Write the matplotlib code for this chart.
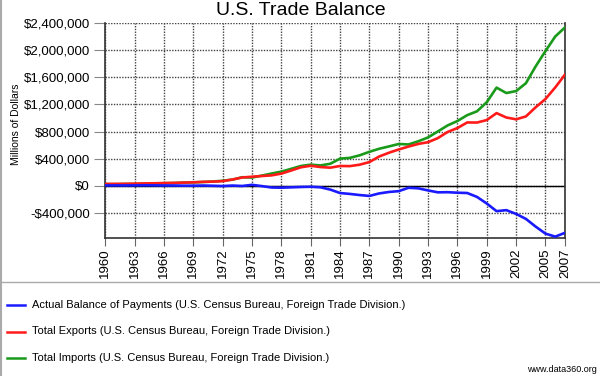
import matplotlib
matplotlib.use("Agg")
import matplotlib.pyplot as plt
from matplotlib.lines import Line2D

plt.rcParams['font.family'] = ['Liberation Sans', 'DejaVu Sans']

years = list(range(1960, 2008))
exports = [25940, 26403, 27722, 29620, 33341, 35285, 38926, 41333, 45543, 49220,
           56640, 59677, 67222, 91242, 120897, 132585, 142716, 152301, 178428, 224131,
           271834, 294398, 275236, 266106, 291094, 289070, 310033, 348869, 431149, 487003,
           535233, 578344, 616882, 642863, 703254, 794387, 851602, 934453, 933174, 969867,
           1072782, 1007725, 980879, 1023519, 1158987, 1281180, 1452000, 1643000]
imports = [22432, 22208, 24352, 25410, 27319, 30621, 35987, 38729, 45293, 49129,
           54386, 60979, 72665, 89342, 125190, 120181, 148798, 179547, 208191, 248696,
           291241, 310570, 299391, 323874, 400166, 410950, 448572, 500552, 545715, 580144,
           616097, 609479, 656094, 713174, 801747, 890771, 955667, 1042726, 1099314, 1233622,
           1449531, 1369496, 1398311, 1514503, 1764344, 1989804, 2205288, 2340000]
balance = [3508, 4195, 3370, 4210, 6022, 4664, 2939, 2604, 250, 91,
           2254, -1302, -5443, 1900, -4293, 12404, -6082, -27246, -29763, -24565,
           -19407, -16172, -24156, -57767, -109072, -121880, -138538, -151684, -114566, -93141,
           -80864, -31135, -39212, -70311, -98493, -96384, -104065, -108273, -166140, -263755,
           -376749, -361771, -417432, -490984, -605357, -708624, -753288, -696728]

xticks = [1960, 1963, 1966, 1969, 1972, 1975, 1978, 1981, 1984, 1987, 1990, 1993,
          1996, 1999, 2002, 2005, 2007]
yticks = [-400000, 0, 400000, 800000, 1200000, 1600000, 2000000, 2400000]
ytick_labels = ['-$400,000', '$0', '$400,000', '$800,000', '$1,200,000', '$1,600,000',
                '$2,000,000', '$2,400,000']

labels = ['Actual Balance of Payments (U.S. Census Bureau, Foreign Trade Division.)',
          'Total Exports (U.S. Census Bureau, Foreign Trade Division.)',
          'Total Imports (U.S. Census Bureau, Foreign Trade Division.)']
colors = ['#1a1aff', '#ff1a1a', '#1a9a1a']

fig = plt.figure(figsize=(6.0, 3.76), dpi=100)
fig.patch.set_facecolor('white')
ax = fig.add_axes([0.1755, 0.368, 0.7662, 0.570])
ax.set_axisbelow(True)

ax.set_xlim(1960, 2007)
ax.set_ylim(-768000, 2400000)

ax.plot(years, imports, color=colors[2], lw=1.9, zorder=3)
ax.plot(years, exports, color=colors[1], lw=1.9, zorder=4)
ax.plot(years, balance, color=colors[0], lw=1.9, zorder=5)

ax.set_xticks(xticks)
ax.set_xticklabels([str(x) for x in xticks], rotation=90, fontsize=9.5)
ax.set_yticks(yticks)
ax.set_yticklabels(ytick_labels, fontsize=9.5)
ax.tick_params(axis='x', length=6, color='#666666', pad=2)
ax.tick_params(axis='y', length=8, color='#888888', pad=3)

ax.grid(True, color='#444444', lw=1.0, linestyle=(0, (1, 1)))
ax.axhline(0, color='black', lw=1.0, zorder=2)

for s in ['left', 'bottom', 'right']:
    ax.spines[s].set_color('#333333')
    ax.spines[s].set_linewidth(1.2)
ax.spines['top'].set_visible(False)

fig.text(0.027, 0.67, 'Millions of Dollars', rotation=90, fontsize=7.5,
         ha='center', va='center')
fig.text(0.502, 0.972, 'U.S. Trade Balance', fontsize=14, ha='center', va='center')

# separator and border
fig.add_artist(Line2D([0, 1], [1 - 282 / 376] * 2, color='#aaaaaa', lw=1.0,
                      transform=fig.transFigure))
fig.add_artist(Line2D([0.002, 0.002], [0, 1], color='#aaaaaa', lw=1.5,
                      transform=fig.transFigure))

# legend
rows = [305, 331.5, 358]
for lab, col, ry in zip(labels, colors, rows):
    yf = 1 - ry / 376
    fig.add_artist(Line2D([7 / 600, 25 / 600], [yf, yf], color=col, lw=1.8,
                          transform=fig.transFigure))
    fig.text(32 / 600, yf, lab, fontsize=8, ha='left', va='center')

fig.text(597 / 600, 1 - 369 / 376, 'www.data360.org', fontsize=6.5, ha='right',
         va='center')

fig.savefig('out.png', dpi=100)
